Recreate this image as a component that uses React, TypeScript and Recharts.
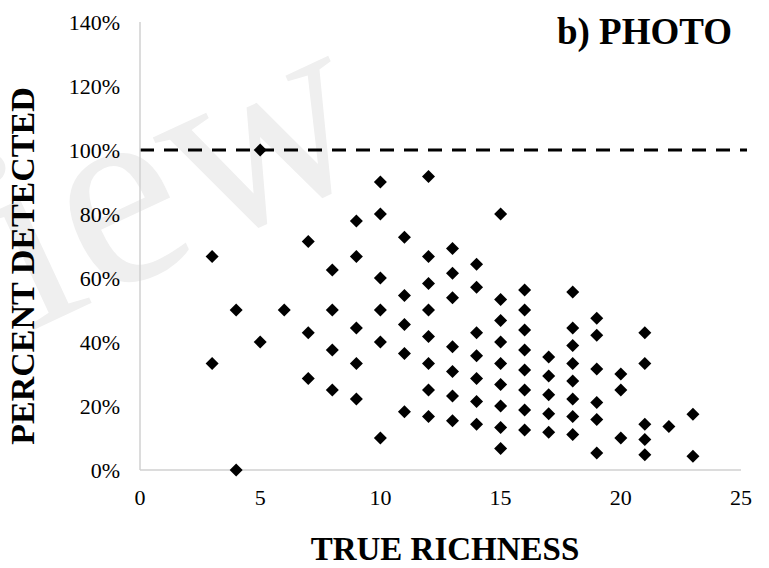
import React from "react";
import { ScatterChart, Scatter, XAxis, YAxis, ReferenceLine } from "recharts";

const trueRichness: number[] = [
  3, 3, 4, 4, 5, 5, 6, 7, 7, 7, 8, 8, 8, 8, 9, 9, 9, 9, 9,
  10, 10, 10, 10, 10, 10, 11, 11, 11, 11, 11,
  12, 12, 12, 12, 12, 12, 12, 12, 13, 13, 13, 13, 13, 13, 13,
  14, 14, 14, 14, 14, 14, 14, 15, 15, 15, 15, 15, 15, 15, 15, 15,
  16, 16, 16, 16, 16, 16, 16, 16, 17, 17, 17, 17, 17,
  18, 18, 18, 18, 18, 18, 18, 18, 19, 19, 19, 19, 19, 19,
  20, 20, 20, 21, 21, 21, 21, 21, 22, 23, 23,
];

const percentDetected: number[] = [
  66.7, 33.3, 50, 0, 100, 40, 50, 71.4, 42.9, 28.6, 62.5, 50, 37.5, 25, 77.8, 66.7, 44.4, 33.3, 22.2,
  90, 80, 60, 50, 40, 10, 72.7, 54.5, 45.5, 36.4, 18.2,
  91.7, 66.7, 58.3, 50, 41.7, 33.3, 25, 16.7, 69.2, 61.5, 53.8, 38.5, 30.8, 23.1, 15.4,
  64.3, 57.1, 42.9, 35.7, 28.6, 21.4, 14.3, 80, 53.3, 46.7, 40, 33.3, 26.7, 20, 13.3, 6.7,
  56.25, 50, 43.75, 37.5, 31.25, 25, 18.75, 12.5, 35.3, 29.4, 23.5, 17.6, 11.8,
  55.6, 44.4, 38.9, 33.3, 27.8, 22.2, 16.7, 11.1, 47.4, 42.1, 31.6, 21.1, 15.8, 5.3,
  30, 25, 10, 42.9, 33.3, 14.3, 9.5, 4.8, 13.6, 17.4, 4.3,
];

const xTicks: number[] = [0, 5, 10, 15, 20, 25];
const yTicks: number[] = [0, 20, 40, 60, 80, 100, 120, 140];
const fullDetection = 100;

const data = trueRichness.map((x, i) => ({ x, y: percentDetected[i] }));

const FONT = '"Liberation Serif", "Times New Roman", serif';

const Diamond = (props: any) => {
  const { cx, cy } = props;
  const r = 6.5;
  return (
    <path
      d={`M${cx},${cy - r}L${cx + r},${cy}L${cx},${cy + r}L${cx - r},${cy}Z`}
      fill="#000"
    />
  );
};

export default function App() {
  return (
    <div style={{ position: "absolute", left: 0, top: 0, width: 769, height: 568, background: "#fff", overflow: "hidden" }}>
      <svg width={769} height={568} style={{ position: "absolute", left: 0, top: 0 }}>
        <text
          x={205}
          y={250}
          textAnchor="middle"
          fontFamily={FONT}
          fontSize={270}
          fill="#efefef"
          transform="rotate(-25 205 250)"
        >
          iew
        </text>
      </svg>
      <div style={{ position: "absolute", left: 0, top: 0 }}>
        <ScatterChart width={769} height={568} margin={{ top: 22, right: 28, bottom: 68, left: 0 }}>
          <XAxis
            type="number"
            dataKey="x"
            domain={[0, 25]}
            ticks={xTicks}
            tickLine={false}
            tickSize={0}
            tickMargin={19}
            height={30}
            axisLine={{ stroke: "#d0d0d0", strokeWidth: 1.5 }}
            tick={{ fill: "#000", fontSize: 22, fontFamily: FONT }}
            interval={0}
          />
          <YAxis
            type="number"
            dataKey="y"
            domain={[0, 140]}
            ticks={yTicks}
            tickLine={false}
            tickSize={0}
            tickMargin={20}
            width={140}
            axisLine={{ stroke: "#d0d0d0", strokeWidth: 1.5 }}
            tick={{ fill: "#000", fontSize: 22, fontFamily: FONT }}
            tickFormatter={(v: number) => `${v}%`}
            interval={0}
          />
          <ReferenceLine
            segment={[{ x: 0, y: fullDetection }, { x: 25.25, y: fullDetection }]}
            ifOverflow="visible"
            stroke="#000"
            strokeWidth={3}
            strokeDasharray="14 10"
          />
          <Scatter data={data} shape={Diamond} isAnimationActive={false} />
        </ScatterChart>
      </div>
      <svg width={769} height={568} style={{ position: "absolute", left: 0, top: 0, pointerEvents: "none" }}>
        <text x={732} y={44} textAnchor="end" fontFamily={FONT} fontWeight="bold" fontSize={37} fill="#000">
          b) PHOTO
        </text>
        <text x={445} y={560} textAnchor="middle" fontFamily={FONT} fontWeight="bold" fontSize={33} fill="#000">
          TRUE RICHNESS
        </text>
        <text
          x={34}
          y={266}
          textAnchor="middle"
          fontFamily={FONT}
          fontWeight="bold"
          fontSize={34}
          fill="#000"
          transform="rotate(-90 34 266)"
        >
          PERCENT DETECTED
        </text>
      </svg>
    </div>
  );
}
